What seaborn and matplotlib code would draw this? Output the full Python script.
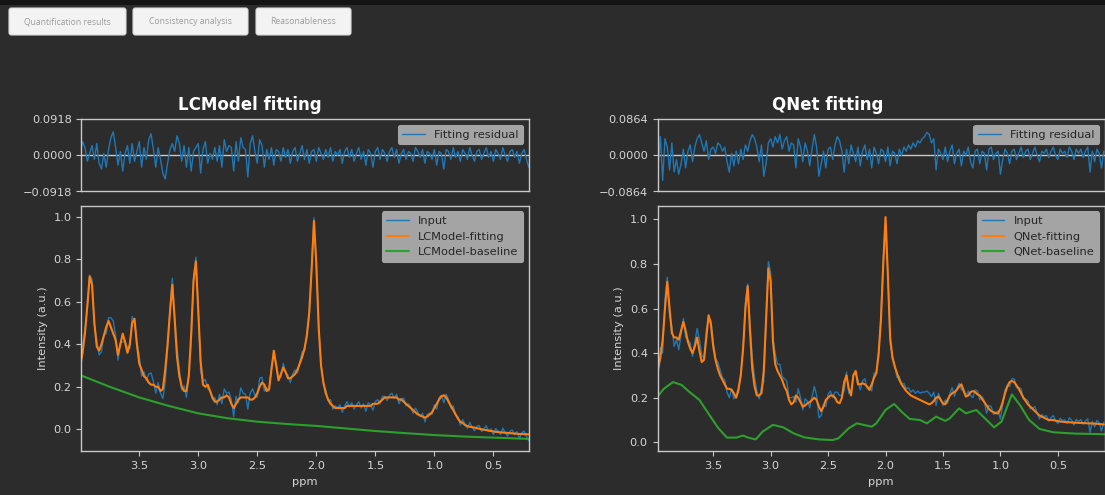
import numpy as np
import pandas as pd
import matplotlib
matplotlib.use("Agg")
import matplotlib.pyplot as plt
from matplotlib.patches import FancyBboxPatch, Rectangle
import seaborn as sns

# ---------------- data ----------------
# LCModel panel: values on a regular ppm grid from 4.00 down to 0.20 (step 0.02)
lc_ppm_range = (4.00, 0.20)
lc_fit = [
    0.30, 0.36, 0.45, 0.58, 0.72, 0.68, 0.50, 0.39, 0.37, 0.40,
    0.44, 0.48, 0.51, 0.48, 0.45, 0.42, 0.35, 0.40, 0.45, 0.41,
    0.36, 0.40, 0.50, 0.52, 0.40, 0.31, 0.28, 0.25, 0.24, 0.22,
    0.21, 0.21, 0.20, 0.20, 0.18, 0.19, 0.28, 0.40, 0.55, 0.68,
    0.52, 0.34, 0.25, 0.20, 0.18, 0.18, 0.25, 0.45, 0.70, 0.79,
    0.55, 0.32, 0.21, 0.20, 0.21, 0.18, 0.15, 0.13, 0.13, 0.14,
    0.15, 0.15, 0.16, 0.15, 0.12, 0.10, 0.12, 0.14, 0.15, 0.15,
    0.15, 0.15, 0.14, 0.14, 0.15, 0.17, 0.20, 0.22, 0.21, 0.18,
    0.19, 0.28, 0.37, 0.30, 0.23, 0.26, 0.29, 0.27, 0.24, 0.24,
    0.25, 0.26, 0.28, 0.31, 0.34, 0.38, 0.44, 0.55, 0.75, 0.98,
    0.78, 0.48, 0.30, 0.22, 0.17, 0.14, 0.12, 0.11, 0.10, 0.10,
    0.10, 0.10, 0.10, 0.11, 0.11, 0.11, 0.11, 0.11, 0.11, 0.11,
    0.11, 0.11, 0.11, 0.11, 0.12, 0.12, 0.12, 0.13, 0.14, 0.15,
    0.15, 0.15, 0.15, 0.15, 0.15, 0.14, 0.14, 0.13, 0.12, 0.11,
    0.10, 0.09, 0.08, 0.07, 0.065, 0.06, 0.055, 0.06, 0.07, 0.08,
    0.10, 0.12, 0.14, 0.155, 0.16, 0.15, 0.13, 0.11, 0.09, 0.07,
    0.05, 0.035, 0.03, 0.02, 0.015, 0.012, 0.01, 0.008, 0.005, 0.003,
    0.0, -0.002, -0.004, -0.006, -0.008, -0.010, -0.012, -0.013, -0.014, -0.015,
    -0.016, -0.017, -0.018, -0.019, -0.020, -0.021, -0.022, -0.022, -0.023, -0.023,
    -0.024,
]
lc_residual = [
    0.010, 0.035, 0.020, -0.015, 0.005, 0.025, -0.010, 0.030, -0.020, -0.035,
    0.005, -0.030, 0.015, 0.045, 0.060, 0.020, -0.025, 0.010, -0.040, 0.005,
    0.025, -0.020, 0.030, -0.015, 0.010, 0.035, -0.030, 0.020, -0.010, 0.040,
    0.055, 0.015, -0.030, 0.020, -0.010, -0.045, -0.060, -0.020, 0.015, 0.030,
    0.010, 0.050, 0.030, -0.015, 0.025, -0.030, 0.020, -0.040, 0.010, 0.020,
    0.030, -0.045, 0.015, 0.035, -0.020, 0.005, -0.010, 0.020, -0.015, 0.025,
    -0.030, 0.040, 0.010, 0.025, 0.020, -0.040, 0.035, -0.015, 0.045, 0.020,
    0.015, -0.055, 0.030, 0.050, 0.010, -0.020, 0.040, 0.025, -0.030, 0.015,
    -0.010, 0.020, -0.025, 0.015, 0.010, -0.015, 0.020, -0.005, 0.015, -0.020,
    0.010, 0.020, -0.015, 0.005, 0.025, -0.010, 0.015, -0.020, 0.010, 0.015,
    -0.015, 0.020, 0.005, -0.010, 0.015, -0.005, 0.020, -0.015, 0.010, 0.000,
    0.015, -0.020, 0.010, 0.020, -0.005, 0.015, -0.015, 0.005, 0.020, -0.010,
    0.010, -0.025, 0.015, 0.005, -0.030, 0.010, 0.020, -0.010, 0.015, 0.005,
    -0.015, 0.010, 0.020, -0.005, 0.015, -0.020, 0.005, 0.015, -0.010, 0.010,
    0.005, -0.015, 0.020, 0.010, -0.005, 0.015, -0.020, 0.010, 0.005, -0.010,
    0.015, -0.025, 0.010, 0.005, -0.035, 0.015, 0.010, -0.010, 0.020, -0.005,
    0.010, -0.015, 0.015, 0.005, -0.010, 0.020, 0.000, -0.015, 0.010, 0.015,
    -0.010, 0.005, 0.020, -0.005, 0.010, -0.015, 0.015, 0.005, -0.010, 0.020,
    0.000, -0.015, 0.010, 0.015, -0.005, 0.010, -0.020, 0.005, 0.015, -0.010,
    -0.030,
]
lc_base_ppm = [4.0, 3.75, 3.5, 3.25, 3.0, 2.75, 2.5, 2.25, 2.0, 1.75, 1.5, 1.25, 1.0, 0.75, 0.5, 0.2]
lc_baseline = [0.255, 0.20, 0.15, 0.11, 0.075, 0.052, 0.036, 0.025, 0.016, 0.004,
               -0.008, -0.018, -0.027, -0.034, -0.039, -0.045]

# QNet panel: regular ppm grid from 4.00 down to 0.10 (step 0.02)
qn_ppm_range = (4.00, 0.10)
qn_fit = [
    0.31, 0.33, 0.38, 0.46, 0.60, 0.72, 0.60, 0.49, 0.47, 0.47,
    0.46, 0.50, 0.54, 0.50, 0.45, 0.42, 0.40, 0.43, 0.47, 0.41,
    0.36, 0.37, 0.47, 0.57, 0.53, 0.43, 0.37, 0.33, 0.30, 0.28,
    0.26, 0.24, 0.24, 0.235, 0.22, 0.20, 0.24, 0.30, 0.42, 0.60,
    0.70, 0.50, 0.33, 0.25, 0.21, 0.21, 0.22, 0.32, 0.55, 0.78,
    0.72, 0.45, 0.35, 0.32, 0.30, 0.28, 0.25, 0.23, 0.19, 0.17,
    0.18, 0.21, 0.20, 0.18, 0.16, 0.165, 0.175, 0.18, 0.19, 0.20,
    0.19, 0.16, 0.14, 0.16, 0.19, 0.20, 0.21, 0.21, 0.20, 0.18,
    0.175, 0.20, 0.27, 0.30, 0.24, 0.21, 0.30, 0.32, 0.26, 0.26,
    0.265, 0.26, 0.25, 0.235, 0.26, 0.29, 0.31, 0.40, 0.55, 0.80,
    1.01, 0.75, 0.47, 0.38, 0.34, 0.31, 0.28, 0.26, 0.245, 0.23,
    0.22, 0.21, 0.205, 0.20, 0.195, 0.19, 0.185, 0.18, 0.175, 0.17,
    0.175, 0.185, 0.20, 0.205, 0.19, 0.175, 0.17, 0.19, 0.21, 0.22,
    0.225, 0.235, 0.25, 0.26, 0.23, 0.205, 0.21, 0.225, 0.23, 0.225,
    0.215, 0.21, 0.195, 0.18, 0.165, 0.15, 0.14, 0.135, 0.13, 0.13,
    0.15, 0.18, 0.22, 0.25, 0.27, 0.275, 0.27, 0.255, 0.24, 0.22,
    0.20, 0.185, 0.17, 0.16, 0.15, 0.14, 0.13, 0.12, 0.115, 0.11,
    0.105, 0.10, 0.10, 0.10, 0.097, 0.095, 0.093, 0.092, 0.091, 0.090,
    0.090, 0.089, 0.088, 0.088, 0.087, 0.087, 0.086, 0.086, 0.085, 0.085,
    0.084, 0.084, 0.083, 0.082, 0.081, 0.080,
]
qn_residual = [
    -0.050, -0.030, 0.045, -0.060, 0.040, 0.020, -0.035, 0.030, -0.040, -0.010,
    -0.045, -0.020, 0.015, -0.030, 0.010, 0.025, -0.015, 0.020, 0.040, 0.050,
    0.030, 0.010, 0.035, -0.010, 0.015, 0.020, 0.005, 0.030, 0.025, 0.010,
    0.020, -0.015, -0.040, 0.005, -0.025, 0.010, -0.020, 0.015, -0.010, 0.025,
    0.010, 0.035, 0.050, 0.040, 0.020, -0.015, 0.025, -0.050, -0.020, 0.030,
    0.040, 0.020, 0.045, 0.030, 0.050, 0.015, 0.035, 0.045, 0.010, 0.030,
    0.025, -0.030, 0.040, 0.020, -0.015, 0.030, 0.010, -0.025, 0.015, 0.050,
    0.020, -0.050, -0.020, 0.010, -0.030, 0.015, 0.020, -0.010, 0.025, 0.045,
    0.035, 0.010, -0.040, 0.015, -0.020, 0.025, 0.005, -0.015, 0.020, -0.025,
    0.010, 0.025, -0.010, 0.015, -0.030, 0.020, 0.005, -0.020, 0.015, 0.010,
    -0.015, 0.020, -0.025, 0.010, 0.005, -0.020, 0.015, 0.000, 0.020, 0.010,
    0.025, 0.015, 0.030, 0.020, 0.035, 0.030, 0.040, 0.045, 0.055, 0.050,
    0.030, 0.040, -0.035, 0.015, 0.005, -0.010, 0.020, -0.015, 0.010, 0.025,
    -0.020, 0.005, 0.015, -0.025, 0.010, 0.000, 0.020, -0.015, -0.030, 0.010,
    0.015, -0.020, 0.010, 0.005, -0.035, 0.015, 0.020, -0.010, 0.005, 0.010,
    -0.045, -0.010, 0.015, 0.005, -0.020, 0.010, 0.015, -0.010, 0.005, 0.020,
    -0.005, 0.010, 0.015, -0.010, 0.005, 0.020, 0.000, -0.015, 0.010, 0.005,
    0.015, -0.005, 0.010, 0.020, 0.000, -0.010, 0.015, 0.005, 0.010, -0.005,
    0.020, 0.010, -0.010, 0.015, 0.005, 0.015, -0.005, 0.010, 0.020, -0.040,
    0.010, -0.015, 0.015, 0.005, -0.030, 0.010,
]
qn_base_ppm = [3.985, 3.93, 3.85, 3.775, 3.71, 3.62, 3.53, 3.455, 3.38, 3.30, 3.24, 3.195,
               3.13, 3.07, 2.98, 2.89, 2.80, 2.705, 2.58, 2.46, 2.41, 2.32, 2.25, 2.19,
               2.12, 2.08, 2.00, 1.925, 1.86, 1.79, 1.70, 1.64, 1.56, 1.48, 1.44, 1.36,
               1.30, 1.21, 1.15, 1.055, 0.99, 0.90, 0.83, 0.75, 0.66, 0.54, 0.35, 0.09]
qn_baseline = [0.205, 0.24, 0.27, 0.257, 0.227, 0.19, 0.12, 0.063, 0.021, 0.021, 0.03, 0.021,
               0.013, 0.048, 0.078, 0.067, 0.04, 0.022, 0.013, 0.01, 0.018, 0.063, 0.085, 0.078,
               0.07, 0.085, 0.145, 0.172, 0.137, 0.105, 0.10, 0.085, 0.115, 0.096, 0.108, 0.152,
               0.13, 0.145, 0.115, 0.067, 0.093, 0.215, 0.167, 0.10, 0.06, 0.045, 0.039, 0.036]

x_ticks = [3.5, 3.0, 2.5, 2.0, 1.5, 1.0, 0.5]
y_ticks = [0.0, 0.2, 0.4, 0.6, 0.8, 1.0]
buttons = ["Quantification results", "Consistency analysis", "Reasonableness"]

# ---------------- style ----------------
W, H = 1105, 495
BG = "#2c2c2c"
FG = "#d6d6d6"
SPINE = "#c8c8c8"
LEG_FACE = "#a4a4a4"
LEG_TEXT = "#262626"
FS = 8.2

sns.set_theme(style="dark")
plt.rcParams["font.family"] = ["DejaVu Sans"]
plt.rcParams.update({
    "figure.facecolor": BG,
    "axes.facecolor": BG,
    "axes.edgecolor": SPINE,
    "axes.linewidth": 1.0,
    "axes.grid": False,
    "xtick.color": SPINE,
    "ytick.color": SPINE,
    "xtick.labelcolor": FG,
    "ytick.labelcolor": FG,
    "xtick.labelsize": FS,
    "ytick.labelsize": FS,
    "xtick.major.size": 3.5,
    "ytick.major.size": 3.5,
    "xtick.major.width": 0.8,
    "ytick.major.width": 0.8,
    "xtick.bottom": True,
    "ytick.left": True,
    "axes.labelcolor": FG,
    "axes.labelsize": FS,
})
pal = sns.color_palette("tab10")

fig = plt.figure(figsize=(W / 100, H / 100), dpi=100)


def px_box(l, t, r, b):
    return [l / W, 1 - b / H, (r - l) / W, (b - t) / H]


# background / app chrome
ax_bg = fig.add_axes([0, 0, 1, 1])
ax_bg.set_xlim(0, W)
ax_bg.set_ylim(H, 0)
ax_bg.axis("off")
ax_bg.add_patch(Rectangle((0, 0), W, 5, color="#141414", lw=0))
btn_x = [(9, 126), (133, 248), (256, 351)]
for (l, r), name in zip(btn_x, buttons):
    ax_bg.add_patch(FancyBboxPatch((l, 8), r - l, 27, boxstyle="round,pad=0,rounding_size=2.5",
                                   facecolor="#f3f3f3", edgecolor="#dadada", lw=0.8))
    ax_bg.text((l + r) / 2, 21.5, name, ha="center", va="center", fontsize=6.2,
               color="#9c9c9c", family=["Open Sans", "DejaVu Sans"])


def style_legend(ax):
    leg = ax.legend(loc="upper right", fontsize=FS, facecolor=LEG_FACE, edgecolor=LEG_FACE,
                    framealpha=1.0, labelcolor=LEG_TEXT, borderaxespad=0.5)
    leg.get_frame().set_linewidth(0.8)
    return leg


def draw_panel(x0, x1, title, tcx, ppm_range, fit, res, base_ppm, base, xlim, ylim, rlim, name):
    ppm = np.linspace(ppm_range[0], ppm_range[1], len(fit))
    df = pd.DataFrame({"ppm": ppm, "fit": np.asarray(fit), "res": np.asarray(res)})
    df["input"] = df["fit"] + df["res"]
    dfb = pd.DataFrame({"ppm": base_ppm, "baseline": base})

    # residual axes
    axr = fig.add_axes(px_box(x0, 119.3, x1, 191.5))
    sns.lineplot(data=df, x="ppm", y="res", ax=axr, color=pal[0], lw=1.0,
                 estimator=None, sort=False, label="Fitting residual")
    axr.axhline(0, color=SPINE, lw=1.0, zorder=1)
    axr.set_xlim(*xlim)
    axr.set_ylim(-rlim, rlim)
    axr.set_yticks([-rlim, 0, rlim])
    axr.set_yticklabels([f"\u2212{rlim:.4f}", "0.0000", f"{rlim:.4f}"])
    axr.set_xticks([])
    axr.set_xlabel("")
    axr.set_ylabel("")
    style_legend(axr)

    # main axes
    ax = fig.add_axes(px_box(x0, 205.7, x1, 451))
    sns.lineplot(data=df, x="ppm", y="input", ax=ax, color=pal[0], lw=1.0,
                 estimator=None, sort=False, label="Input")
    sns.lineplot(data=df, x="ppm", y="fit", ax=ax, color=pal[1], lw=1.5,
                 estimator=None, sort=False, label=f"{name}-fitting")
    sns.lineplot(data=dfb, x="ppm", y="baseline", ax=ax, color=pal[2], lw=1.5,
                 estimator=None, sort=False, label=f"{name}-baseline")
    ax.set_xlim(*xlim)
    ax.set_ylim(*ylim)
    ax.set_xticks(x_ticks)
    ax.set_xticklabels([f"{v:.1f}" for v in x_ticks])
    ax.set_yticks(y_ticks)
    ax.set_yticklabels([f"{v:.1f}" for v in y_ticks])
    ax.set_xlabel("ppm", fontsize=FS, color=FG, labelpad=4.5)
    ax.set_ylabel("Intensity (a.u.)", fontsize=FS, color=FG)
    style_legend(ax)

    fig.text(tcx / W, 1 - 105 / H, title, ha="center", va="center", fontsize=12,
             fontweight="bold", color="white")


draw_panel(81.4, 528.8, "LCModel fitting", 250, lc_ppm_range, lc_fit, lc_residual,
           lc_base_ppm, lc_baseline, (3.99, 0.20), (-0.102, 1.052), 0.0918, "LCModel")
draw_panel(657.5, 1104.5, "QNet fitting", 828, qn_ppm_range, qn_fit, qn_residual,
           qn_base_ppm, qn_baseline, (3.985, 0.094), (-0.039, 1.061), 0.0864, "QNet")

fig.savefig("out.png", dpi=100, facecolor=BG)
